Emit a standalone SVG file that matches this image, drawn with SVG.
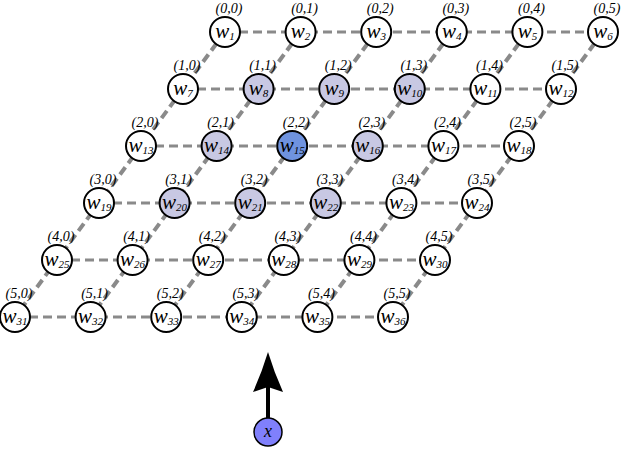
<svg xmlns="http://www.w3.org/2000/svg" width="622" height="458" viewBox="0 0 622 458">
<style>
.h{stroke:#8a8a8a;stroke-width:3;stroke-dasharray:9 5;fill:none}
.d{stroke:#8a8a8a;stroke-width:4;stroke-dasharray:9 5;fill:none}
.n circle{stroke:#000;stroke-width:2;fill:#fff}
.s circle{fill:#c8c8e3}
.b circle{fill:#6f93df}
text{font-family:"Liberation Serif","DejaVu Serif",serif;font-style:italic;fill:#000}
.w{font-size:21px;text-anchor:middle}
.sub{font-size:11px}
.l{font-size:14px;text-anchor:middle}
</style>
<rect width="622" height="458" fill="#fff"/>
<g id="connectors">
<line class="h" x1="225" y1="32" x2="603" y2="32"/>
<line class="h" x1="183" y1="89" x2="561" y2="89"/>
<line class="h" x1="141" y1="146" x2="519" y2="146"/>
<line class="h" x1="99" y1="203" x2="477" y2="203"/>
<line class="h" x1="57" y1="260" x2="435" y2="260"/>
<line class="h" x1="15" y1="317" x2="393" y2="317"/>
<line class="d" x1="225" y1="32" x2="15" y2="317"/>
<line class="d" x1="300.6" y1="32" x2="90.6" y2="317"/>
<line class="d" x1="376.2" y1="32" x2="166.2" y2="317"/>
<line class="d" x1="451.8" y1="32" x2="241.8" y2="317"/>
<line class="d" x1="527.4" y1="32" x2="317.4" y2="317"/>
<line class="d" x1="603" y1="32" x2="393" y2="317"/>
<line x1="268" y1="418" x2="268" y2="385" stroke="#000" stroke-width="4"/>
<path d="M268,352 Q274,372 283,392 L268,387 L253,392 Q262,372 268,352 Z" fill="#000"/>
</g>
<g id="w1" class="n"><circle cx="225" cy="32" r="15"/><text class="w" x="225" y="38">w<tspan class="sub" dy="2">1</tspan></text><text class="l" x="229" y="13">(0,0)</text></g>
<g id="w2" class="n"><circle cx="300.6" cy="32" r="15"/><text class="w" x="300.6" y="38">w<tspan class="sub" dy="2">2</tspan></text><text class="l" x="304.6" y="13">(0,1)</text></g>
<g id="w3" class="n"><circle cx="376.2" cy="32" r="15"/><text class="w" x="376.2" y="38">w<tspan class="sub" dy="2">3</tspan></text><text class="l" x="380.2" y="13">(0,2)</text></g>
<g id="w4" class="n"><circle cx="451.8" cy="32" r="15"/><text class="w" x="451.8" y="38">w<tspan class="sub" dy="2">4</tspan></text><text class="l" x="455.8" y="13">(0,3)</text></g>
<g id="w5" class="n"><circle cx="527.4" cy="32" r="15"/><text class="w" x="527.4" y="38">w<tspan class="sub" dy="2">5</tspan></text><text class="l" x="531.4" y="13">(0,4)</text></g>
<g id="w6" class="n"><circle cx="603" cy="32" r="15"/><text class="w" x="603" y="38">w<tspan class="sub" dy="2">6</tspan></text><text class="l" x="607" y="13">(0,5)</text></g>
<g id="w7" class="n"><circle cx="183" cy="89" r="15"/><text class="w" x="183" y="95">w<tspan class="sub" dy="2">7</tspan></text><text class="l" x="187" y="70">(1,0)</text></g>
<g id="w8" class="n s"><circle cx="258.6" cy="89" r="15"/><text class="w" x="258.6" y="95">w<tspan class="sub" dy="2">8</tspan></text><text class="l" x="262.6" y="70">(1,1)</text></g>
<g id="w9" class="n s"><circle cx="334.2" cy="89" r="15"/><text class="w" x="334.2" y="95">w<tspan class="sub" dy="2">9</tspan></text><text class="l" x="338.2" y="70">(1,2)</text></g>
<g id="w10" class="n s"><circle cx="409.8" cy="89" r="15"/><text class="w" x="409.8" y="95">w<tspan class="sub" dy="2">10</tspan></text><text class="l" x="413.8" y="70">(1,3)</text></g>
<g id="w11" class="n"><circle cx="485.4" cy="89" r="15"/><text class="w" x="485.4" y="95">w<tspan class="sub" dy="2">11</tspan></text><text class="l" x="489.4" y="70">(1,4)</text></g>
<g id="w12" class="n"><circle cx="561" cy="89" r="15"/><text class="w" x="561" y="95">w<tspan class="sub" dy="2">12</tspan></text><text class="l" x="565" y="70">(1,5)</text></g>
<g id="w13" class="n"><circle cx="141" cy="146" r="15"/><text class="w" x="141" y="152">w<tspan class="sub" dy="2">13</tspan></text><text class="l" x="145" y="127">(2,0)</text></g>
<g id="w14" class="n s"><circle cx="216.6" cy="146" r="15"/><text class="w" x="216.6" y="152">w<tspan class="sub" dy="2">14</tspan></text><text class="l" x="220.6" y="127">(2,1)</text></g>
<g id="w15" class="n b"><circle cx="292.2" cy="146" r="15"/><text class="w" x="292.2" y="152">w<tspan class="sub" dy="2">15</tspan></text><text class="l" x="296.2" y="127">(2,2)</text></g>
<g id="w16" class="n s"><circle cx="367.8" cy="146" r="15"/><text class="w" x="367.8" y="152">w<tspan class="sub" dy="2">16</tspan></text><text class="l" x="371.8" y="127">(2,3)</text></g>
<g id="w17" class="n"><circle cx="443.4" cy="146" r="15"/><text class="w" x="443.4" y="152">w<tspan class="sub" dy="2">17</tspan></text><text class="l" x="447.4" y="127">(2,4)</text></g>
<g id="w18" class="n"><circle cx="519" cy="146" r="15"/><text class="w" x="519" y="152">w<tspan class="sub" dy="2">18</tspan></text><text class="l" x="523" y="127">(2,5)</text></g>
<g id="w19" class="n"><circle cx="99" cy="203" r="15"/><text class="w" x="99" y="209">w<tspan class="sub" dy="2">19</tspan></text><text class="l" x="103" y="184">(3,0)</text></g>
<g id="w20" class="n s"><circle cx="174.6" cy="203" r="15"/><text class="w" x="174.6" y="209">w<tspan class="sub" dy="2">20</tspan></text><text class="l" x="178.6" y="184">(3,1)</text></g>
<g id="w21" class="n s"><circle cx="250.2" cy="203" r="15"/><text class="w" x="250.2" y="209">w<tspan class="sub" dy="2">21</tspan></text><text class="l" x="254.2" y="184">(3,2)</text></g>
<g id="w22" class="n s"><circle cx="325.8" cy="203" r="15"/><text class="w" x="325.8" y="209">w<tspan class="sub" dy="2">22</tspan></text><text class="l" x="329.8" y="184">(3,3)</text></g>
<g id="w23" class="n"><circle cx="401.4" cy="203" r="15"/><text class="w" x="401.4" y="209">w<tspan class="sub" dy="2">23</tspan></text><text class="l" x="405.4" y="184">(3,4)</text></g>
<g id="w24" class="n"><circle cx="477" cy="203" r="15"/><text class="w" x="477" y="209">w<tspan class="sub" dy="2">24</tspan></text><text class="l" x="481" y="184">(3,5)</text></g>
<g id="w25" class="n"><circle cx="57" cy="260" r="15"/><text class="w" x="57" y="266">w<tspan class="sub" dy="2">25</tspan></text><text class="l" x="61" y="241">(4,0)</text></g>
<g id="w26" class="n"><circle cx="132.6" cy="260" r="15"/><text class="w" x="132.6" y="266">w<tspan class="sub" dy="2">26</tspan></text><text class="l" x="136.6" y="241">(4,1)</text></g>
<g id="w27" class="n"><circle cx="208.2" cy="260" r="15"/><text class="w" x="208.2" y="266">w<tspan class="sub" dy="2">27</tspan></text><text class="l" x="212.2" y="241">(4,2)</text></g>
<g id="w28" class="n"><circle cx="283.8" cy="260" r="15"/><text class="w" x="283.8" y="266">w<tspan class="sub" dy="2">28</tspan></text><text class="l" x="287.8" y="241">(4,3)</text></g>
<g id="w29" class="n"><circle cx="359.4" cy="260" r="15"/><text class="w" x="359.4" y="266">w<tspan class="sub" dy="2">29</tspan></text><text class="l" x="363.4" y="241">(4,4)</text></g>
<g id="w30" class="n"><circle cx="435" cy="260" r="15"/><text class="w" x="435" y="266">w<tspan class="sub" dy="2">30</tspan></text><text class="l" x="439" y="241">(4,5)</text></g>
<g id="w31" class="n"><circle cx="15" cy="317" r="15"/><text class="w" x="15" y="323">w<tspan class="sub" dy="2">31</tspan></text><text class="l" x="19" y="298">(5,0)</text></g>
<g id="w32" class="n"><circle cx="90.6" cy="317" r="15"/><text class="w" x="90.6" y="323">w<tspan class="sub" dy="2">32</tspan></text><text class="l" x="94.6" y="298">(5,1)</text></g>
<g id="w33" class="n"><circle cx="166.2" cy="317" r="15"/><text class="w" x="166.2" y="323">w<tspan class="sub" dy="2">33</tspan></text><text class="l" x="170.2" y="298">(5,2)</text></g>
<g id="w34" class="n"><circle cx="241.8" cy="317" r="15"/><text class="w" x="241.8" y="323">w<tspan class="sub" dy="2">34</tspan></text><text class="l" x="245.8" y="298">(5,3)</text></g>
<g id="w35" class="n"><circle cx="317.4" cy="317" r="15"/><text class="w" x="317.4" y="323">w<tspan class="sub" dy="2">35</tspan></text><text class="l" x="321.4" y="298">(5,4)</text></g>
<g id="w36" class="n"><circle cx="393" cy="317" r="15"/><text class="w" x="393" y="323">w<tspan class="sub" dy="2">36</tspan></text><text class="l" x="397" y="298">(5,5)</text></g>
<g id="x" class="n"><circle cx="268" cy="432" r="14" style="fill:#8080fc;stroke-width:1.5"/><text class="w" x="268" y="437" style="font-size:18px">x</text></g>
</svg>
